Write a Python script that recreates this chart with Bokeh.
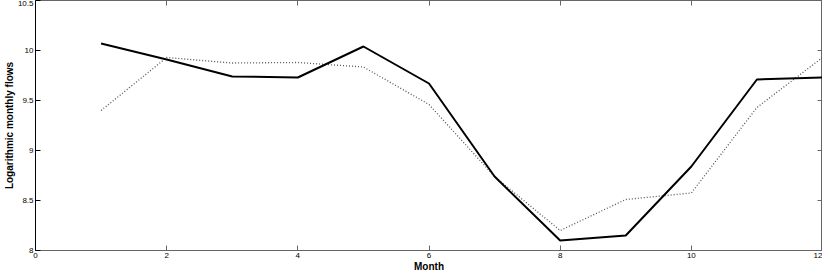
from bokeh.plotting import figure
from bokeh.models import LinearAxis, FixedTicker, Range1d, CustomJSTickFormatter
from bokeh.embed import file_html
from bokeh.resources import INLINE

months = [1, 2, 3, 4, 5, 6, 7, 8, 9, 10, 11, 12]
observed = [10.07, 9.91, 9.74, 9.73, 10.04, 9.67, 8.74, 8.10, 8.15, 8.84, 9.71, 9.73]
simulated = [9.40, 9.93, 9.875, 9.88, 9.835, 9.46, 8.74, 8.20, 8.51, 8.575, 9.43, 9.93]
x_ticks = [0, 2, 4, 6, 8, 10, 12]
y_ticks = [8, 8.5, 9, 9.5, 10, 10.5]
y_tick_labels = ["8", "8.5", "9", "9.5", "10", "10.5"]
x_label = "Month"
y_label = "Logarithmic monthly flows"

FONT = "Liberation Sans"

p = figure(width=822, height=274, output_backend="svg", toolbar_location=None,
           x_range=Range1d(0, 12), y_range=Range1d(8, 10.5),
           min_border_top=0, min_border_right=0, min_border_left=10, min_border_bottom=0)
p.xgrid.visible = False
p.ygrid.visible = False
p.outline_line_color = "#666666"
p.background_fill_color = "white"

p.line(months, simulated, line_color="#555555", line_width=1.3, line_dash="1 2")
p.line(months, observed, line_color="black", line_width=2)

overrides = {t: l for t, l in zip(y_ticks, y_tick_labels)}

def style(ax, show_labels, color):
    ax.major_tick_in = 5
    ax.major_tick_out = 0
    ax.minor_tick_line_color = None
    ax.axis_line_color = color
    ax.major_tick_line_color = color
    ax.major_label_text_font = FONT
    ax.major_label_text_font_size = "8px"
    ax.major_label_text_color = "black"
    ax.major_label_standoff = 2
    ax.axis_label_text_font = FONT
    ax.axis_label_text_font_style = "bold"
    ax.axis_label_text_font_size = "10px"
    ax.axis_label_text_color = "black"
    ax.axis_label_standoff = 0
    if not show_labels:
        ax.formatter = CustomJSTickFormatter(code="return ''")
        ax.major_label_standoff = 0

xa = p.xaxis[0]
xa.ticker = FixedTicker(ticks=x_ticks)
xa.axis_label = x_label
style(xa, True, "#666666")

ya = p.yaxis[0]
ya.ticker = FixedTicker(ticks=y_ticks)
ya.major_label_overrides = overrides
ya.axis_label = y_label
style(ya, True, "black")

top = LinearAxis(ticker=FixedTicker(ticks=x_ticks))
style(top, False, "#666666")
p.add_layout(top, "above")

right = LinearAxis(ticker=FixedTicker(ticks=y_ticks))
style(right, False, "#666666")
p.add_layout(right, "right")

open("out.html", "w").write(file_html(p, INLINE))
